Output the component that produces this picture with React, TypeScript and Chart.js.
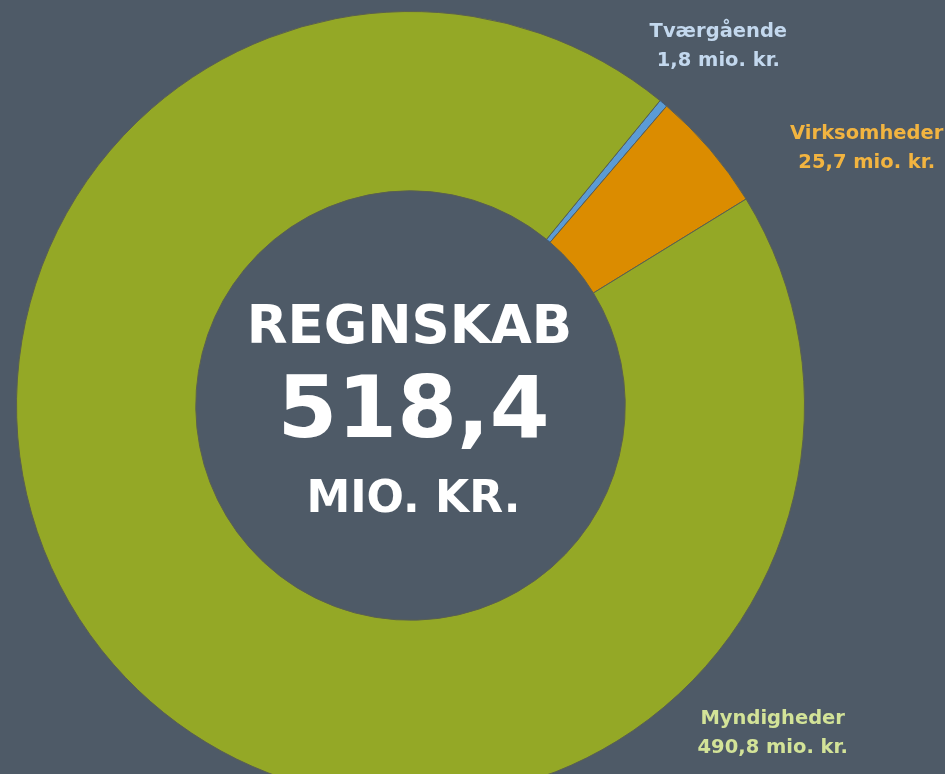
import React, { useEffect, useRef } from "react";
import { Chart, registerables } from "chart.js";

Chart.register(...registerables);

const categories = ["Tværgående", "Virksomheder", "Myndigheder"];
const values = [1.8, 25.7, 490.8];
const valueLabels = ["1,8 mio. kr.", "25,7 mio. kr.", "490,8 mio. kr."];
const sliceColors = ["#5b9bd5", "#db8c00", "#94a826"];
const labelColors = ["#c3d8ee", "#f2b440", "#d3e398"];
// label anchor: angle (deg, clockwise from top) and distance as factor of outer radius
const labelAngles = [40.3, 60.3, 131.9];
const labelDistances = [1.208, 1.333, 1.235];
const centerTitle = "REGNSKAB";
const centerValue = "518,4";
const centerUnit = "MIO. KR.";

const BG = "#4e5a67";
const FONT = "'DejaVu Sans', Verdana, sans-serif";

export default function App() {
  const ref = useRef<HTMLCanvasElement>(null);

  useEffect(() => {
    if (!ref.current) return;
    const labelPlugin = {
      id: "donutText",
      afterDraw(chart: any) {
        const ctx = chart.ctx;
        const meta = chart.getDatasetMeta(0);
        const arc = meta.data[0];
        const cx = arc.x;
        const cy = arc.y;
        const R = arc.outerRadius;
        ctx.save();
        ctx.textAlign = "center";
        ctx.textBaseline = "alphabetic";
        ctx.fillStyle = "#ffffff";
        ctx.font = `bold 53px ${FONT}`;
        ctx.fillText(centerTitle, cx - 1, cy - 63);
        ctx.font = `bold 86px ${FONT}`;
        ctx.fillText(centerValue, cx + 3, cy + 31);
        ctx.font = `bold 44px ${FONT}`;
        ctx.fillText(centerUnit, cx + 3, cy + 106);

        ctx.font = `bold 19.5px ${FONT}`;
        categories.forEach((c, i) => {
          const a = (labelAngles[i] * Math.PI) / 180;
          const d = R * labelDistances[i];
          const x = cx + d * Math.sin(a);
          const y = cy - d * Math.cos(a);
          ctx.fillStyle = labelColors[i];
          ctx.fillText(c, x, y - 6);
          ctx.fillText(valueLabels[i], x, y + 23);
        });
        ctx.restore();
      },
    };

    const chart = new Chart(ref.current, {
      type: "doughnut",
      data: {
        labels: categories,
        datasets: [
          {
            data: values,
            backgroundColor: sliceColors,
            borderColor: ["#3f5a78", "#5a5f55", "#5a6050"],
            borderWidth: 1,
          },
        ],
      },
      options: {
        responsive: false,
        animation: false,
        rotation: 39.3,
        cutout: "54.5%",
        layout: { padding: { left: 16, top: 11, right: 140, bottom: 10 } },
        plugins: {
          legend: { display: false },
          tooltip: { enabled: false },
        },
      },
      plugins: [labelPlugin],
    });
    return () => chart.destroy();
  }, []);

  return (
    <div
      style={{
        position: "fixed",
        left: 0,
        top: 0,
        width: 945,
        height: 774,
        overflow: "hidden",
        background: BG,
      }}
    >
      <canvas ref={ref} width={945} height={810} style={{ display: "block" }} />
    </div>
  );
}
